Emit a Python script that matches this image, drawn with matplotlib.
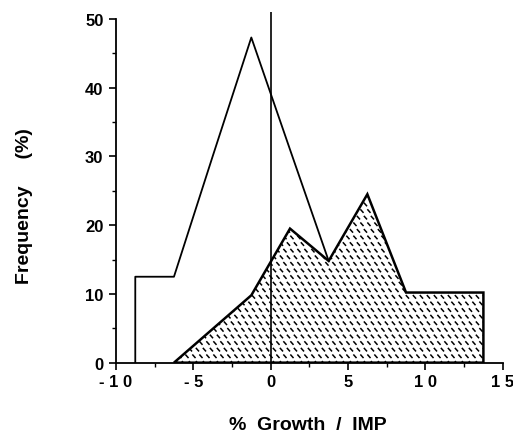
import numpy as np
import matplotlib
matplotlib.use("Agg")
from matplotlib import pyplot as plt
from matplotlib.patches import Polygon
from matplotlib.collections import LineCollection

plt.rcParams['font.family'] = ['Liberation Sans', 'DejaVu Sans']
plt.rcParams['font.weight'] = 'bold'

# bin midpoints (% growth / IMP) and frequencies (%)
open_x = [-8.75, -6.25, -3.75, -1.25, 1.25, 3.75]
open_y = [12.5, 12.5, 30.0, 47.3, 31.0, 14.8]

hatch_x = [-6.25, -3.75, -1.25, 1.25, 3.75, 6.25, 8.75, 11.25, 13.75]
hatch_y = [0.0, 4.9, 9.8, 19.5, 14.8, 24.5, 10.2, 10.2, 10.2]

x_ticks = [-10, -5, 0, 5, 10, 15]
x_tick_labels = ['- 1 0', '- 5', '0', '5', '1 0', '1 5']
y_ticks = [0, 10, 20, 30, 40, 50]

fig = plt.figure(figsize=(5.13, 4.35), dpi=100)
ax = fig.add_axes([0.226, 0.164, 0.754, 0.806])
ax.set_xlim(-10, 15)
ax.set_ylim(0, 51)

# hatched distribution
verts = [(hatch_x[0], 0)] + list(zip(hatch_x, hatch_y)) + [(hatch_x[-1], 0)]
poly = Polygon(verts, closed=True, facecolor='white', edgecolor='black', lw=1.8, zorder=2)
ax.add_patch(poly)

# diamond-plate style short dashes, in pixel space, clipped to the polygon
fig.canvas.draw()
x0, y0 = ax.transData.transform((-10, 0))
x1, y1 = ax.transData.transform((15, 51))
segs = []
step_x, step_y = 7.0, 6.6
j = 0
for yy in np.arange(y0 - 20, y1 + 20, step_y):
    off = (j % 2) * step_x / 2
    for xx in np.arange(x0 - 20 + off, x1 + 20, step_x):
        segs.append([(xx - 1.6, yy + 1.8), (xx + 1.6, yy - 1.8)])
    j += 1
lc = LineCollection(segs, colors='black', linewidths=1.1, transform=None, zorder=3)
ax.add_collection(lc)
lc.set_clip_path(poly)

# open distribution
ox = [open_x[0]] + open_x
oy = [0] + open_y
ax.plot(ox, oy, color='black', lw=1.3, zorder=4)

ax.axvline(0, color='black', lw=1.2, zorder=5)

for s in ['top', 'right']:
    ax.spines[s].set_visible(False)
ax.spines['left'].set_bounds(0, 50)
ax.spines['left'].set_linewidth(1.3)
ax.spines['bottom'].set_linewidth(1.3)

ax.set_xticks(x_ticks)
ax.set_xticklabels(x_tick_labels)
ax.set_xticks(np.arange(-7.5, 15, 5), minor=True)
ax.set_yticks(y_ticks)
ax.set_yticks(np.arange(5, 50, 10), minor=True)
ax.tick_params(axis='both', which='major', direction='out', length=5, width=1.2, labelsize=12)
ax.tick_params(axis='both', which='minor', direction='out', length=3, width=1.0)
ax.tick_params(axis='x', pad=3)
ax.tick_params(axis='y', pad=4)

ax.set_xlabel('%  Growth  /  IMP', fontsize=14, fontweight='bold')
ax.set_ylabel('Frequency     (%)', fontsize=14, fontweight='bold')
ax.xaxis.set_label_coords(0.496, -0.152)
ax.yaxis.set_label_coords(-0.215, 0.45)

fig.savefig('out.png', dpi=100)
